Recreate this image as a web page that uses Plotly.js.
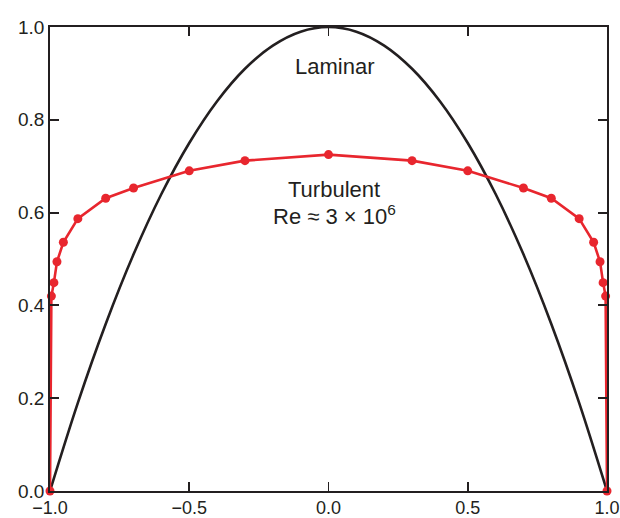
<!DOCTYPE html>
<html>
<head>
<meta charset="utf-8">
<script src="https://cdn.plot.ly/plotly-3.0.1.min.js"></script>
<style>
  html, body { margin: 0; padding: 0; background: #fff; }
  #chart { width: 620px; height: 518px; }
</style>
</head>
<body>
<div id="chart"></div>
<script>
// Velocity profile across a pipe: position r/R versus u/U_max
const laminarX = [-1.0, -0.9, -0.8, -0.7, -0.6, -0.5, -0.4, -0.3, -0.2, -0.1, 0.0,
                   0.1, 0.2, 0.3, 0.4, 0.5, 0.6, 0.7, 0.8, 0.9, 1.0];
const laminarY = [0.0, 0.19, 0.36, 0.51, 0.64, 0.75, 0.84, 0.91, 0.96, 0.99, 1.0,
                  0.99, 0.96, 0.91, 0.84, 0.75, 0.64, 0.51, 0.36, 0.19, 0.0];

const turbulentX = [-1.0, -0.995, -0.986, -0.975, -0.952, -0.9, -0.8, -0.7, -0.5, -0.3, 0.0,
                     0.3, 0.5, 0.7, 0.8, 0.9, 0.952, 0.975, 0.986, 0.995, 1.0];
const turbulentY = [0.0, 0.42, 0.449, 0.494, 0.536, 0.587, 0.631, 0.653, 0.690, 0.712, 0.725,
                    0.712, 0.690, 0.653, 0.631, 0.587, 0.536, 0.494, 0.449, 0.42, 0.0];

const xTicks = [-1.0, -0.5, 0.0, 0.5, 1.0];
const xTickText = ['\u22121.0', '\u22120.5', '0.0', '0.5', '1.0'];
const yTicks = [0.0, 0.2, 0.4, 0.6, 0.8, 1.0];
const yTickText = ['0.0', '0.2', '0.4', '0.6', '0.8', '1.0'];

const ink = '#231f20';
const red = '#e8262e';
const face = 'Liberation Sans, Arial, sans-serif';

const traces = [
  {
    x: laminarX, y: laminarY, type: 'scatter', mode: 'lines',
    line: { color: ink, width: 2.6, shape: 'spline', smoothing: 1 },
    hoverinfo: 'skip', cliponaxis: false
  },
  {
    x: turbulentX, y: turbulentY, type: 'scatter', mode: 'lines+markers',
    line: { color: red, width: 2.6 },
    marker: { color: red, size: 9 },
    hoverinfo: 'skip', cliponaxis: false
  }
];

const axisCommon = {
  showline: true, linecolor: ink, linewidth: 1.8, mirror: 'ticks',
  ticks: 'inside', ticklen: 9, tickwidth: 1.8, tickcolor: ink,
  showgrid: false, zeroline: false, fixedrange: true,
  tickfont: { family: face, size: 19, color: ink }
};

const layout = {
  width: 620, height: 518,
  margin: { l: 50, r: 13, t: 27, b: 27, pad: 0 },
  paper_bgcolor: '#fff', plot_bgcolor: '#fff',
  showlegend: false,
  xaxis: Object.assign({}, axisCommon, {
    range: [-1, 1], tickmode: 'array', tickvals: xTicks, ticktext: xTickText,
    tickfont: { family: face, size: 18, color: ink }
  }),
  yaxis: Object.assign({}, axisCommon, {
    range: [0, 1], tickmode: 'array', tickvals: yTicks, ticktext: yTickText
  }),
  annotations: [
    { x: 0.02, y: 0.915, xref: 'x', yref: 'y', text: 'Laminar', showarrow: false,
      font: { family: face, size: 22, color: ink } },
    { x: 0.02, y: 0.65, xref: 'x', yref: 'y', text: 'Turbulent', showarrow: false,
      font: { family: face, size: 22, color: ink } },
    { x: 0.02, y: 0.595, xref: 'x', yref: 'y', text: 'Re \u2248 3 \u00d7 10<sup>6</sup>', showarrow: false,
      font: { family: face, size: 22, color: ink } }
  ]
};

Plotly.newPlot('chart', traces, layout, { displayModeBar: false, staticPlot: true });
</script>
</body>
</html>
